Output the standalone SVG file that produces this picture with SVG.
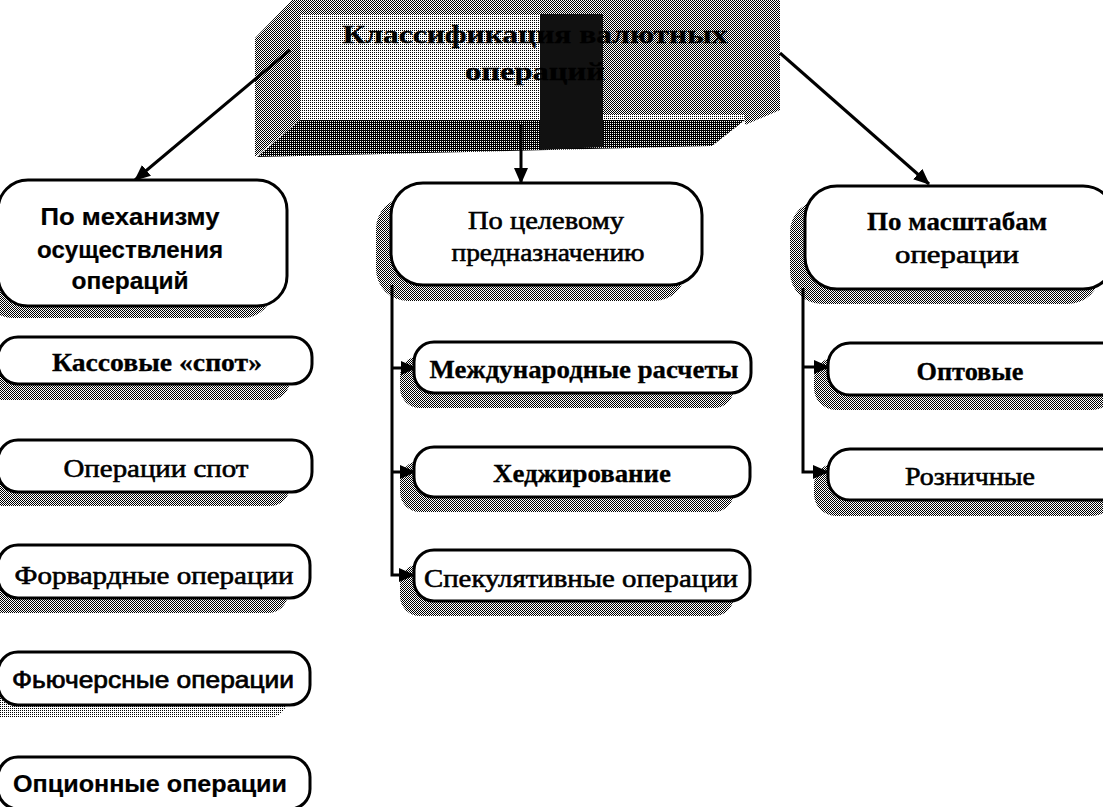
<svg xmlns="http://www.w3.org/2000/svg" width="1103" height="807" viewBox="0 0 1103 807">
<defs>
<pattern id="p25" width="2" height="2" patternUnits="userSpaceOnUse"><rect x="0" y="0" width="1" height="1" fill="#000"/></pattern>
<pattern id="p50" width="2" height="2" patternUnits="userSpaceOnUse"><rect x="0" y="0" width="1" height="1" fill="#000"/><rect x="1" y="1" width="1" height="1" fill="#000"/></pattern>
<pattern id="p75" width="2" height="2" patternUnits="userSpaceOnUse"><rect x="0" y="0" width="2" height="1" fill="#000"/><rect x="1" y="1" width="1" height="1" fill="#000"/></pattern>
<marker id="ah" markerUnits="userSpaceOnUse" markerWidth="16" markerHeight="14" refX="15" refY="7" orient="auto"><path d="M0,0 L16,7 L0,14 Z" fill="#000"/></marker>
</defs>
<style>
.box{fill:#fff;stroke:#000;stroke-width:3}
.sh{fill:url(#p50)}
.t{font-family:"Liberation Serif","Times New Roman",serif;font-size:26px;fill:#000;stroke:#000;stroke-width:0.6;text-anchor:middle}
.b{font-weight:bold;stroke-width:0.3}
.s{font-family:"Liberation Sans",Arial,sans-serif;font-weight:bold;font-size:23px;stroke-width:0.2}
.sr{font-family:"Liberation Sans",Arial,sans-serif;font-size:24px;stroke-width:0.7}
.c{stroke:#000;stroke-width:3;fill:none}
</style>
<rect width="1103" height="807" fill="#fff"/>

<g id="title">
<polygon points="255,38 292,0 300,0 300,120 255,157" fill="url(#p50)"/>
<rect x="300" y="0" width="445" height="14" fill="url(#p50)"/>
<rect x="300" y="14" width="445" height="106" fill="url(#p25)"/>
<polygon points="745,0 780,0 780,110 745,125" fill="url(#p50)"/>
<rect x="603" y="14" width="142" height="100" fill="url(#p50)"/>
<polygon points="300,120 745,120 712,146 257,157" fill="url(#p75)"/>
<polygon points="540,14 603,14 603,147 540,150" fill="#111"/>
<text class="t b" x="535" y="43" font-size="34" textLength="385" lengthAdjust="spacingAndGlyphs">Классификация валютных</text>
<text class="t b" x="535" y="80" font-size="34" textLength="140" lengthAdjust="spacingAndGlyphs">операций</text>
</g>

<g id="connectors">
<line class="c" x1="290" y1="50" x2="135" y2="180" marker-end="url(#ah)"/>
<line class="c" x1="521" y1="125" x2="521" y2="183" marker-end="url(#ah)"/>
<line class="c" x1="780" y1="53" x2="929" y2="184" marker-end="url(#ah)"/>
<polyline class="c" points="392,285 392,575 414,575" marker-end="url(#ah)"/>
<line class="c" x1="392" y1="368" x2="416" y2="368" marker-end="url(#ah)"/>
<line class="c" x1="392" y1="472" x2="415" y2="472" marker-end="url(#ah)"/>
<polyline class="c" points="803,288 803,472 828,472" marker-end="url(#ah)"/>
<line class="c" x1="803" y1="367" x2="829" y2="367" marker-end="url(#ah)"/>
</g>

<g id="n-mech">
<rect class="sh" x="-17" y="194" width="290" height="124" rx="30"/>
<rect class="box" x="-2" y="180" width="289" height="126" rx="30"/>
<text class="t s" x="130" y="225" textLength="179" lengthAdjust="spacingAndGlyphs">По механизму</text>
<text class="t s" x="130" y="258" textLength="186" lengthAdjust="spacingAndGlyphs">осуществления</text>
<text class="t s" x="130" y="289" textLength="117" lengthAdjust="spacingAndGlyphs">операций</text>
</g>

<g id="n-target">
<rect class="sh" x="376" y="197" width="310" height="104" rx="32"/>
<rect class="box" x="391" y="183" width="311" height="102" rx="32"/>
<text class="t" x="546" y="229" textLength="156" lengthAdjust="spacingAndGlyphs">По целевому</text>
<text class="t" x="548" y="261" textLength="193" lengthAdjust="spacingAndGlyphs">предназначению</text>
</g>

<g id="n-scale">
<rect class="sh" x="790" y="200" width="310" height="104" rx="32"/>
<rect class="box" x="805" y="186" width="310" height="103" rx="32"/>
<text class="t b" x="957" y="230" textLength="180" lengthAdjust="spacingAndGlyphs">По масштабам</text>
<text class="t" x="957" y="263" textLength="124" lengthAdjust="spacingAndGlyphs">операции</text>
</g>

<g id="n-cash">
<rect class="sh" x="-17" y="350" width="307" height="50" rx="20"/>
<rect class="box" x="-2" y="337" width="314" height="47" rx="20"/>
<text class="t b" x="157" y="371" textLength="210" lengthAdjust="spacingAndGlyphs">Кассовые «спот»</text>
</g>

<g id="n-spot">
<rect class="sh" x="-17" y="454" width="307" height="52" rx="20"/>
<rect class="box" x="-2" y="440" width="314" height="52" rx="20"/>
<text class="t" x="156" y="477" textLength="185" lengthAdjust="spacingAndGlyphs">Операции спот</text>
</g>

<g id="n-forward">
<rect class="sh" x="-17" y="560" width="305" height="53" rx="20"/>
<rect class="box" x="-2" y="545" width="312" height="53" rx="20"/>
<text class="t" x="154" y="584" textLength="279" lengthAdjust="spacingAndGlyphs">Форвардные операции</text>
</g>

<g id="n-futures">
<rect x="-17" y="666" width="305" height="52" rx="20" fill="url(#p25)"/>
<rect class="box" x="-2" y="652" width="312" height="53" rx="20"/>
<text class="t sr" x="153" y="688" textLength="282" lengthAdjust="spacingAndGlyphs">Фьючерсные операции</text>
</g>

<g id="n-options">
<rect class="box" x="-2" y="757" width="312" height="52" rx="20"/>
<text class="t s" x="150" y="792" font-size="24" textLength="274" lengthAdjust="spacingAndGlyphs">Опционные операции</text>
</g>

<g id="n-intl">
<rect class="sh" x="400" y="356" width="334" height="52" rx="20"/>
<rect class="box" x="414" y="342" width="337" height="51" rx="20"/>
<text class="t b" x="584" y="378" textLength="309" lengthAdjust="spacingAndGlyphs">Международные расчеты</text>
</g>

<g id="n-hedge">
<rect class="sh" x="400" y="461" width="334" height="51" rx="20"/>
<rect class="box" x="414" y="447" width="336" height="50" rx="20"/>
<text class="t b" x="582" y="482" textLength="178" lengthAdjust="spacingAndGlyphs">Хеджирование</text>
</g>

<g id="n-spec">
<rect class="sh" x="400" y="564" width="334" height="52" rx="20"/>
<rect class="box" x="414" y="550" width="336" height="51" rx="20"/>
<text class="t" x="581" y="587" textLength="314" lengthAdjust="spacingAndGlyphs">Спекулятивные операции</text>
</g>

<g id="n-wholesale">
<rect class="sh" x="814" y="357" width="300" height="53" rx="22"/>
<rect class="box" x="828" y="343" width="300" height="52" rx="22"/>
<text class="t b" x="970" y="380" textLength="107" lengthAdjust="spacingAndGlyphs">Оптовые</text>
</g>

<g id="n-retail">
<rect class="sh" x="814" y="463" width="300" height="53" rx="22"/>
<rect class="box" x="828" y="449" width="300" height="51" rx="22"/>
<text class="t" x="970" y="485" textLength="130" lengthAdjust="spacingAndGlyphs">Розничные</text>
</g>
</svg>
